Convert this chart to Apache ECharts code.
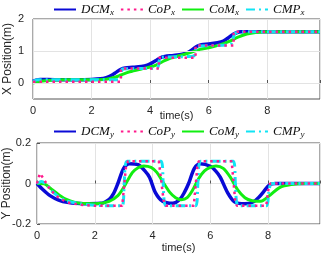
<!DOCTYPE html>
<html><head><meta charset="utf-8">
<script src="https://cdn.jsdelivr.net/npm/echarts@6/dist/echarts.min.js"></script>
<style>html,body{margin:0;padding:0;background:#fff}#c{width:322px;height:265px}</style>
</head><body><div id="c"></div>
<script>
// ---- tick labels ----
const timeTicks = [0, 2, 4, 6, 8];
const xPosTicks = [0, 1, 2];
const yPosTicks = [-0.2, 0, 0.2];

// ---- X position (top) ----
const dcmxT = [0, 0.1, 0.25, 0.5, 1.0, 1.5, 2.0, 2.3, 2.5, 2.7, 2.85, 3.0, 3.15, 3.4, 3.7, 3.9, 4.05, 4.2, 4.35, 4.5, 4.8, 5.1, 5.3, 5.45, 5.6, 5.75, 6.0, 6.3, 6.5, 6.65, 6.8, 6.95, 7.1, 7.4, 8, 9.8];
const dcmxV = [0.05, 0.09, 0.11, 0.11, 0.1, 0.1, 0.11, 0.13, 0.17, 0.25, 0.34, 0.43, 0.47, 0.49, 0.52, 0.56, 0.62, 0.7, 0.79, 0.83, 0.86, 0.9, 0.96, 1.05, 1.15, 1.2, 1.22, 1.26, 1.31, 1.4, 1.5, 1.57, 1.6, 1.6, 1.6, 1.6];
const copxT = [0, 3.0, 3.0, 4.3, 4.3, 5.55, 5.55, 6.85, 6.85, 9.8];
const copxV = [0.04, 0.04, 0.45, 0.45, 0.79, 0.79, 1.17, 1.17, 1.6, 1.6];
const comxT = [0, 0.2, 0.5, 1.0, 2.0, 2.5, 2.8, 3.0, 3.3, 3.7, 4.0, 4.2, 4.45, 4.7, 5.0, 5.4, 5.7, 6.0, 6.4, 6.7, 7.0, 7.3, 7.6, 8.0, 9.8];
const comxV = [0.0, 0.05, 0.08, 0.1, 0.1, 0.12, 0.18, 0.25, 0.35, 0.44, 0.5, 0.56, 0.68, 0.78, 0.85, 0.96, 1.05, 1.1, 1.2, 1.3, 1.43, 1.53, 1.58, 1.6, 1.6];
const cmpxT = [0, 0.15, 0.5, 2.95, 3.05, 3.5, 4.25, 4.35, 5.0, 5.5, 5.6, 6.2, 6.75, 6.9, 7.2, 9.8];
const cmpxV = [0.05, 0.1, 0.1, 0.1, 0.44, 0.45, 0.47, 0.8, 0.82, 0.85, 1.15, 1.17, 1.22, 1.55, 1.6, 1.6];

// ---- Y position (bottom) ----
const dcmyT = [0, 0.2, 0.45, 0.75, 1.05, 1.6, 2.2, 2.5, 2.65, 2.8, 3.0, 3.2, 3.5, 3.75, 3.9, 4.1, 4.35, 4.7, 4.95, 5.1, 5.25, 5.45, 5.65, 6.0, 6.2, 6.35, 6.6, 6.85, 7.2, 7.5, 7.7, 7.85, 8.05, 8.25, 9.8];
const dcmyV = [0, -0.03, -0.06, -0.082, -0.093, -0.1, -0.098, -0.078, -0.05, 0.0, 0.075, 0.098, 0.093, 0.06, 0.03, -0.045, -0.088, -0.098, -0.078, -0.045, 0.0, 0.075, 0.098, 0.085, 0.06, 0.03, -0.045, -0.092, -0.1, -0.09, -0.065, -0.04, -0.007, 0, 0];
const copyT = [0, 0.1, 0.2, 0.45, 0.75, 1.05, 1.5, 2.0, 2.5, 2.95, 3.08, 3.15, 4.22, 4.38, 4.46, 5.43, 5.55, 5.6, 6.74, 6.86, 6.92, 7.94, 8.02, 8.08, 9.8];
const copyV = [0, 0.05, 0.03, -0.03, -0.07, -0.093, -0.105, -0.11, -0.11, -0.11, 0.08, 0.11, 0.11, -0.08, -0.11, -0.11, 0.08, 0.11, 0.11, -0.08, -0.11, -0.11, -0.02, 0, 0];
const comyT = [0, 0.25, 0.5, 0.75, 1.0, 1.5, 2.0, 2.5, 2.8, 3.0, 3.3, 3.5, 3.7, 3.95, 4.15, 4.35, 4.6, 4.8, 5.0, 5.2, 5.4, 5.6, 5.8, 6.0, 6.2, 6.45, 6.7, 6.95, 7.2, 7.45, 7.75, 8.05, 8.4, 8.8, 9.3, 9.8];
const comyV = [0, -0.002, -0.028, -0.055, -0.077, -0.098, -0.1, -0.088, -0.06, -0.02, 0.054, 0.078, 0.087, 0.08, 0.055, 0.01, -0.044, -0.07, -0.08, -0.07, -0.03, 0.025, 0.062, 0.08, 0.087, 0.075, 0.03, -0.032, -0.07, -0.085, -0.088, -0.06, -0.02, -0.005, 0, 0];
const cmpyT = [0, 0.15, 0.3, 0.5, 0.75, 1.0, 1.5, 2.0, 2.5, 2.95, 3.02, 3.12, 4.3, 4.37, 4.47, 5.5, 5.57, 5.67, 6.8, 6.87, 6.97, 7.95, 8.02, 8.12, 9.8];
const cmpyV = [0, 0.01, 0.0, -0.035, -0.065, -0.085, -0.1, -0.108, -0.11, -0.11, 0.0, 0.11, 0.11, 0.0, -0.11, -0.11, 0.0, 0.11, 0.11, 0.0, -0.11, -0.11, -0.05, 0, 0];

const zip = (t, v) => t.map((x, i) => [x, v[i]]);
const C = { dcm: '#0a0ad6', cop: '#ff1a8c', com: '#11ee11', cmp: '#11e4f4' };
const sans = 'Liberation Sans, Arial, sans-serif';
const txt = '#262626';

function legendFmt(name) {
  const p = name.split('_');
  return '{m|' + p[0] + '}{s|' + p[1] + '}';
}
const legendRich = {
  m: { fontFamily: 'Liberation Serif, serif', fontStyle: 'italic', fontSize: 13, color: '#111' },
  s: { fontFamily: 'Liberation Serif, serif', fontStyle: 'italic', fontSize: 9, color: '#111', padding: [7, 0, 0, 0] }
};
function mkLegend(top, names) {
  return {
    top: top, left: 53, padding: 0, itemWidth: 22, itemHeight: 10, itemGap: 6,
    data: names, formatter: legendFmt, textStyle: { rich: legendRich },
    itemStyle: { opacity: 0, borderWidth: 0 }
  };
}
function xAxis(gi, nameGap) {
  return {
    type: 'value', gridIndex: gi, min: 0, max: 9.8, interval: 2,
    name: 'time(s)', nameLocation: 'middle', nameGap: nameGap, nameMoveOverlap: false,
    nameTextStyle: { fontFamily: sans, fontSize: 11, color: txt },
    axisLine: { show: false },
    axisTick: { show: true, inside: true, length: 3, lineStyle: { color: '#555' } },
    axisLabel: { fontFamily: sans, fontSize: 11, color: txt, margin: 6,
      formatter: v => (timeTicks.includes(v) ? String(v) : '') },
    splitLine: { show: true, lineStyle: { color: '#e3e3e3', width: 1 } }
  };
}
function lineS(name, data, color, width, type, xi, smooth, z) {
  return {
    name: name, type: 'line', xAxisIndex: xi, yAxisIndex: xi, data: data,
    symbol: 'none', smooth: smooth, z: z, animation: false,
    lineStyle: { color: color, width: width, type: type, cap: 'butt' },
    itemStyle: { color: color }
  };
}
function gridLines(vals, xi) {
  return {
    type: 'line', xAxisIndex: xi, yAxisIndex: xi, data: [], silent: true, z: 1,
    markLine: { silent: true, symbol: 'none', label: { show: false }, animation: false,
      lineStyle: { color: '#e3e3e3', width: 1, type: 'solid' },
      data: vals.map(v => ({ yAxis: v })) }
  };
}

const chart = echarts.init(document.getElementById('c'), null, { renderer: 'canvas' });
chart.setOption({
  animation: false,
  backgroundColor: '#fff',
  grid: [
    { left: 33, top: 19, right: 2, height: 80, show: true, borderColor: '#555', borderWidth: 1, backgroundColor: '#fff', containLabel: false, outerBoundsMode: 'none' },
    { left: 37, top: 143, right: 2, height: 81, show: true, borderColor: '#555', borderWidth: 1, backgroundColor: '#fff', containLabel: false, outerBoundsMode: 'none' }
  ],
  legend: [
    mkLegend(3, ['DCM_x', 'CoP_x', 'CoM_x', 'CMP_x']),
    mkLegend(125, ['DCM_y', 'CoP_y', 'CoM_y', 'CMP_y'])
  ],
  xAxis: [xAxis(0, 11), xAxis(1, 18)],
  yAxis: [
    { type: 'value', gridIndex: 0, min: -0.5, max: 2, interval: 0.5,
      name: 'X Position(m)', nameLocation: 'middle', nameGap: 19, nameMoveOverlap: false,
      nameTextStyle: { fontFamily: sans, fontSize: 12, color: txt },
      axisLine: { show: false }, axisTick: { show: false }, splitLine: { show: false },
      axisLabel: { fontFamily: sans, fontSize: 11, color: txt, margin: 9,
        formatter: v => (xPosTicks.includes(v) ? String(v) : '') } },
    { type: 'value', gridIndex: 1, min: -0.2, max: 0.2, interval: 0.2,
      name: 'Y Position(m)', nameLocation: 'middle', nameGap: 24, nameMoveOverlap: false,
      nameTextStyle: { fontFamily: sans, fontSize: 12, color: txt },
      axisLine: { show: false },
      axisTick: { show: true, inside: true, length: 3, lineStyle: { color: '#555' } },
      splitLine: { show: true, lineStyle: { color: '#e3e3e3', width: 1 } },
      axisLabel: { fontFamily: sans, fontSize: 11, color: txt, margin: 6,
        formatter: v => { const r = Math.round(v * 10) / 10; return yPosTicks.includes(r) ? String(r) : ''; } } }
  ],
  series: [
    gridLines(xPosTicks, 0),
    lineS('DCM_x', zip(dcmxT, dcmxV), C.dcm, 3.5, 'solid', 0, 0.3, 2),
    lineS('CoM_x', zip(comxT, comxV), C.com, 3, 'solid', 0, 0.3, 3),
    lineS('CMP_x', zip(cmpxT, cmpxV), C.cmp, 3, [9, 4, 2, 4], 0, 0.2, 4),
    lineS('CoP_x', zip(copxT, copxV), C.cop, 2.5, [2.5, 4], 0, false, 5),
    lineS('DCM_y', zip(dcmyT, dcmyV), C.dcm, 3.5, 'solid', 1, 0.3, 2),
    lineS('CoM_y', zip(comyT, comyV), C.com, 3, 'solid', 1, 0.3, 3),
    lineS('CMP_y', zip(cmpyT, cmpyV), C.cmp, 3, [9, 4, 2, 4], 1, 0.2, 4),
    lineS('CoP_y', zip(copyT, copyV), C.cop, 2.5, [2.5, 4], 1, false, 5)
  ]
});
</script></body></html>
